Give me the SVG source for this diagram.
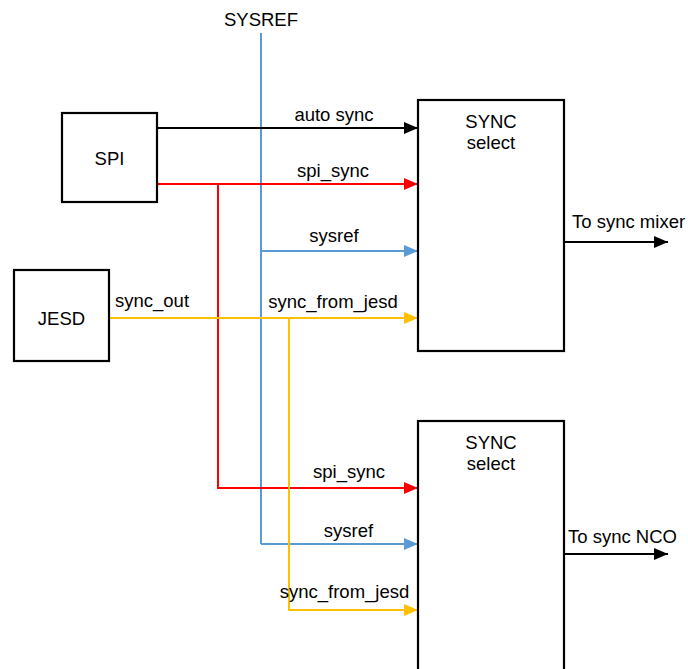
<svg xmlns="http://www.w3.org/2000/svg" width="688" height="669" viewBox="0 0 688 669">
<style>
text{font-family:"Liberation Sans",Arial,sans-serif;font-size:18.5px;fill:#000}
.c{text-anchor:middle}
.box{fill:#fff;stroke:#000;stroke-width:2.2}
.w{fill:none;stroke-width:2}
.k{stroke:#000}.r{stroke:#FF0000}.b{stroke:#5B9BD5}.y{stroke:#FFC000}
</style>
<defs>
<marker id="ak" viewBox="0 0 14 12" refX="14" refY="6" markerWidth="14" markerHeight="12" markerUnits="userSpaceOnUse" orient="auto"><path d="M0,0L14,6L0,12z" fill="#000"/></marker>
<marker id="ar" viewBox="0 0 14 12" refX="14" refY="6" markerWidth="14" markerHeight="12" markerUnits="userSpaceOnUse" orient="auto"><path d="M0,0L14,6L0,12z" fill="#FF0000"/></marker>
<marker id="ab" viewBox="0 0 14 12" refX="14" refY="6" markerWidth="14" markerHeight="12" markerUnits="userSpaceOnUse" orient="auto"><path d="M0,0L14,6L0,12z" fill="#5B9BD5"/></marker>
<marker id="ay" viewBox="0 0 14 12" refX="14" refY="6" markerWidth="14" markerHeight="12" markerUnits="userSpaceOnUse" orient="auto"><path d="M0,0L14,6L0,12z" fill="#FFC000"/></marker>
</defs>
<g id="connectors">
<path class="w b" d="M261,33V544"/>
<path class="w b" d="M261,251H418" marker-end="url(#ab)"/>
<path class="w b" d="M261,544H418" marker-end="url(#ab)"/>
<path class="w k" d="M157,128H418" marker-end="url(#ak)"/>
<path class="w r" d="M157,184H418" marker-end="url(#ar)"/>
<path class="w r" d="M218,184V488H418" marker-end="url(#ar)"/>
<path class="w y" d="M109,318H418" marker-end="url(#ay)"/>
<path class="w y" d="M289,318V610H418" marker-end="url(#ay)"/>
<path class="w k" d="M564,242H668" marker-end="url(#ak)"/>
<path class="w k" d="M564,554H668" marker-end="url(#ak)"/>
<text class="c" x="261" y="25.5">SYSREF</text>
<text class="c" x="334" y="121">auto sync</text>
<text class="c" x="333" y="177">spi_sync</text>
<text class="c" x="334" y="242">sysref</text>
<text class="c" x="333" y="308">sync_from_jesd</text>
<text x="115" y="307">sync_out</text>
<text class="c" x="349" y="478">spi_sync</text>
<text class="c" x="348.5" y="537">sysref</text>
<text class="c" x="344.5" y="598">sync_from_jesd</text>
<text x="572" y="228">To sync mixer</text>
<text x="568" y="543">To sync NCO</text>
</g>
<g id="spi"><rect class="box" x="62" y="113" width="95" height="89"/><text class="c" x="109.5" y="165">SPI</text></g>
<g id="jesd"><rect class="box" x="14" y="270" width="95" height="91"/><text class="c" x="61.5" y="325">JESD</text></g>
<g id="sync1"><rect class="box" x="418" y="100" width="146" height="251"/><text class="c" x="491" y="128">SYNC</text><text class="c" x="491" y="149">select</text></g>
<g id="sync2"><rect class="box" x="418" y="421" width="146" height="260"/><text class="c" x="491" y="449">SYNC</text><text class="c" x="491" y="470">select</text></g>
</svg>
